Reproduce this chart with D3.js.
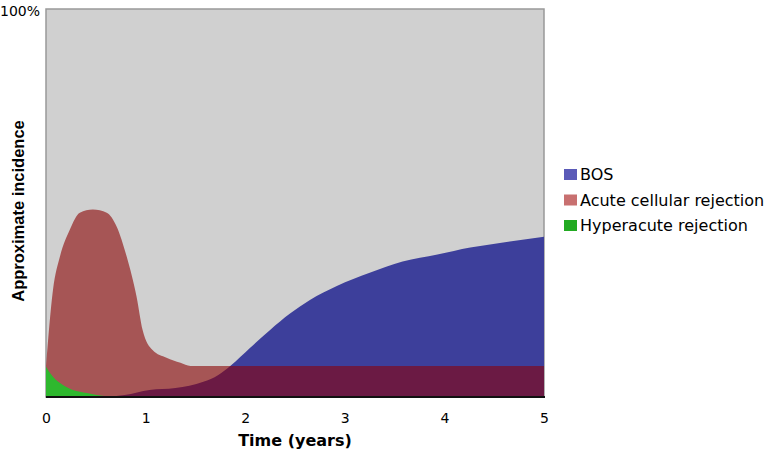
<!DOCTYPE html>
<html><head><meta charset="utf-8">
<script src="https://cdn.jsdelivr.net/npm/d3@7"></script>
<style>body{margin:0;background:#fff}svg{display:block}</style>
</head><body><svg id="c" width="774" height="453"></svg>
<script>
const xTicks = [0,1,2,3,4,5];
const yTickLabels = ["100%"];
const seriesNames = ["BOS","Acute cellular rejection","Hyperacute rejection"];
const seriesColors = ["#3d3f9b","#a65555","#2eb82e"];
const legendColors = ["#5a5ab8","#c87070","#22aa22"];
const overlapColor = "#6b1a44";
const bosYears = [0,0.54,0.79,1.04,1.30,1.58,1.73,1.85,2.05,2.25,2.45,2.65,2.92,3.25,3.58,3.93,4.26,4.59,5.0];
const bosPct   = [0,0,0.5,1.8,2.3,3.9,5.7,8.0,12.7,17.3,21.5,25.0,28.6,32.0,34.9,36.7,38.5,39.8,41.3];
const acuteYears = [0,0.07,0.14,0.24,0.34,0.47,0.61,0.71,0.81,0.91,0.97,1.07,1.21,1.35,1.45,2,3,4,5];
const acutePct   = [8.0,27.6,36.2,43.2,47.5,48.3,47.5,43.9,36.2,25.8,17.3,12.1,10.1,8.8,8.0,8.0,8.0,8.0,8.0];
const hyperYears = [0,0.07,0.17,0.27,0.41,0.51,0.7];
const hyperPct   = [7.8,5.2,3.1,1.8,1.0,0.5,0];

const svg = d3.select("#c");
const L=46,R=544,T=9,B=397;
const x = d3.scaleLinear().domain([0,5]).range([L,R]);
const y = d3.scaleLinear().domain([0,100]).range([B,T]);
const F = "DejaVu Sans, Verdana, sans-serif";

svg.append("rect").attr("x",L).attr("y",T).attr("width",R-L).attr("height",B-T).attr("fill","#d0d0d0").attr("stroke","#999").attr("stroke-width",1.5);

const bos = bosYears.map((d,i)=>[d,bosPct[i]]);
const acute = acuteYears.map((d,i)=>[d,acutePct[i]]);
const hyper = hyperYears.map((d,i)=>[d,hyperPct[i]]);
const area = d3.area().x(d=>x(d[0])).y0(y(0)).y1(d=>y(d[1])).curve(d3.curveMonotoneX);

svg.append("path").datum(bos).attr("d",area).attr("fill",seriesColors[0]);
svg.append("path").datum(acute).attr("d",area).attr("fill",seriesColors[1]);
svg.append("clipPath").attr("id","acClip").append("path").datum(acute).attr("d",area);
svg.append("path").datum(bos).attr("d",area).attr("fill",overlapColor).attr("clip-path","url(#acClip)");
svg.append("path").datum(hyper).attr("d",area).attr("fill",seriesColors[2]);

svg.append("line").attr("x1",L).attr("x2",R+1).attr("y1",B).attr("y2",B).attr("stroke","#111").attr("stroke-width",2);

const xAxis = svg.append("g").attr("transform",`translate(0,${B})`)
  .call(d3.axisBottom(x).tickValues(xTicks).tickSize(0).tickPadding(16).tickFormat(d3.format("d")));
xAxis.select(".domain").remove();
xAxis.selectAll("text").attr("font-size",14).attr("fill","#000").attr("font-family",F);

svg.append("text").attr("x",0).attr("y",y(100)+7).attr("font-size",14).attr("font-family",F).text(yTickLabels[0]);

svg.append("text").attr("x",(L+R)/2).attr("y",446).attr("text-anchor","middle").attr("font-size",16).attr("font-weight","bold").attr("font-family",F).text("Time (years)");
svg.append("text").attr("transform","translate(24,211) rotate(-90)").attr("text-anchor","middle").attr("font-size",16.5).attr("font-weight","bold").attr("font-family","Liberation Sans, Arial, sans-serif").text("Approximate incidence");

const lg = svg.append("g");
seriesNames.forEach((n,i)=>{
  const yy = 180 + i*25.5;
  lg.append("rect").attr("x",564).attr("y",yy-11).attr("width",13).attr("height",11).attr("fill",legendColors[i]);
  lg.append("text").attr("x",580).attr("y",yy).attr("font-size",16).attr("font-family",F).text(n);
});
</script></body></html>
